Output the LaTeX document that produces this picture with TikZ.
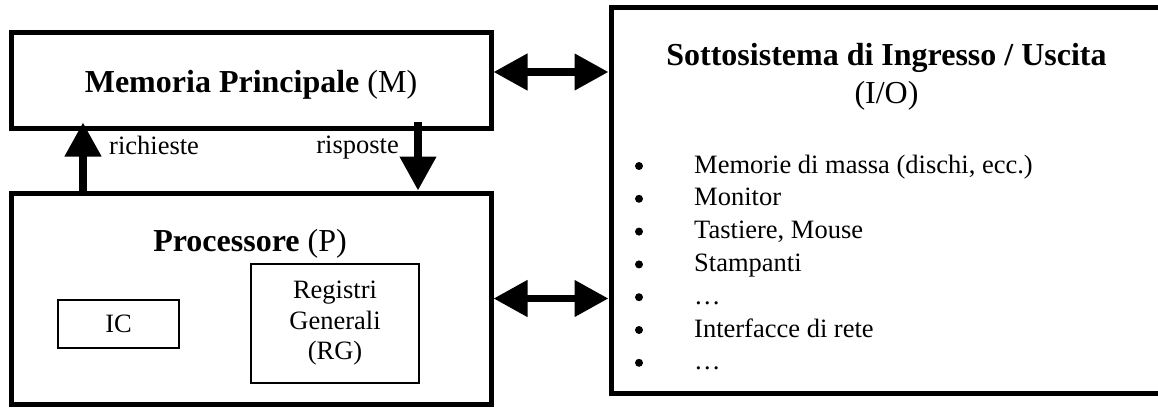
\documentclass[tikz,border=0pt]{standalone}
\usepackage{fontspec}
\setmainfont{Liberation Serif}
\usetikzlibrary{calc}
\usetikzlibrary{positioning}
\usetikzlibrary{arrows.meta}
\tikzset{every picture/.style={>={Triangle[length=34pt,width=35pt]}}}
\tikzset{every node/.style={font=\fontsize{26.5}{30.5}\selectfont, inner sep=0pt}}
\tikzset{bigbox/.style={draw=black, line width=5pt}}
\tikzset{smallbox/.style={draw=black, line width=1.3pt, align=center}}
\tikzset{titletext/.style={font=\fontsize{32}{37}\selectfont, anchor=base}}
\tikzset{bus/.style={line width=7.5pt}}
\tikzset{dot/.style={circle, fill=black, minimum size=8pt}}

\begin{document}
\begin{tikzpicture}[x=1pt, y=-1pt]
        \useasboundingbox (0,0) rectangle (1158,407);
        \node[bigbox, minimum width=480pt, minimum height=96pt] (mem) at (251,80) {};
        \node[bigbox, minimum width=480pt, minimum height=211pt] (proc) at (251,298.5) {};
        \node[bigbox, minimum width=620pt, minimum height=386pt] (io) at (921,200) {};
        \node[smallbox, minimum width=121pt, minimum height=48pt] (ic) at (118.5,324) {IC};
        \node[smallbox, minimum width=168pt, minimum height=119pt] (rg) at (335,323.5) {Registri\\Generali\\(RG)};
        \node[titletext] (memtitle) at (251,92) {\textbf{Memoria Principale} (M)};
        \node[titletext] (proctitle) at (250,251) {\textbf{Processore} (P)};
        \node[titletext] (iotitle) at (886.5,65) {\textbf{Sottosistema di Ingresso / Uscita}};
        \node[titletext, below=38pt of iotitle.base, anchor=base] (iosub) {(I/O)};
        \foreach \txt [count=\i] in {{Memorie di massa (dischi, ecc.)}, Monitor, {Tastiere, Mouse}, Stampanti, …, Interfacce di rete, …} {
            \node[anchor=base west] (ioitem\i) at (694,{173+32.8*(\i-1)}) {\txt};
            \node[dot] (iodot\i) at (639,{166+32.8*(\i-1)}) {};
        }
        \draw[bus, ->] ($(proc.north west)+(74.5,0)$) -- ($(mem.south west)+(74.5,-8)$);
        \draw[bus, ->] ($(mem.south west)+(409.5,-9)$) -- ($(proc.north west)+(409.5,0)$);
        \node[anchor=base west] (req) at (109,154) {richieste};
        \node[anchor=base east] (resp) at (399,153) {risposte};
        \draw[bus, <->] ($(mem.east)+(0,-8)$) -- ($(io.west |- mem.east)+(0,-8)$);
        \draw[bus, <->] (proc.east) -- (io.west |- proc.east);
    \end{tikzpicture}
\end{document}
